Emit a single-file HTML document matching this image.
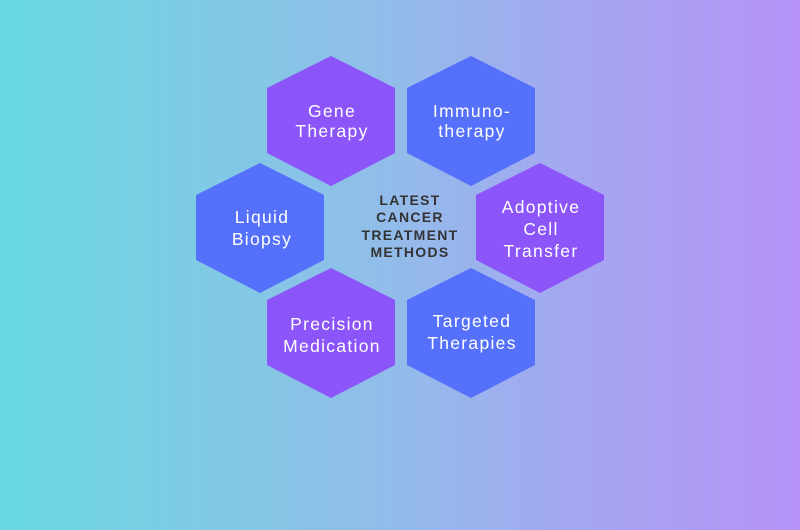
<!DOCTYPE html>
<html><head><meta charset="utf-8"><style>
html,body{margin:0;padding:0;width:800px;height:530px;overflow:hidden}
body{background:linear-gradient(90deg,#68d9e1 0%,#7fcbe4 25%,#93bbea 50%,#a7a4f1 75%,#b592f7 100%)}
text{font-family:"Liberation Sans",sans-serif}
</style></head><body>
<svg width="800" height="530" viewBox="0 0 800 530" xmlns="http://www.w3.org/2000/svg">
<defs>
<polygon id="h" points="0,-65 64,-33 64,32 0,65 -64,32 -64,-33"/>
</defs>
<use href="#h" x="331" y="121" fill="#8b55fa"/>
<use href="#h" x="471" y="121" fill="#5570fb"/>
<use href="#h" x="260" y="228" fill="#5570fb"/>
<use href="#h" x="540" y="228" fill="#8b55fa"/>
<use href="#h" x="331" y="333" fill="#8b55fa"/>
<use href="#h" x="471" y="333" fill="#5570fb"/>
<g fill="#fff" font-size="17.5" text-anchor="middle" letter-spacing="1.3">
<text x="332" y="117">Gene</text><text x="332" y="137">Therapy</text>
<text x="472" y="117">Immuno-</text><text x="472" y="137">therapy</text>
<text x="262" y="223">Liquid</text><text x="262" y="245">Biopsy</text>
<text x="541" y="213">Adoptive</text><text x="541" y="235">Cell</text><text x="541" y="257">Transfer</text>
<text x="332" y="330">Precision</text><text x="332" y="352">Medication</text>
<text x="472" y="327">Targeted</text><text x="472" y="349">Therapies</text>
</g>
<g fill="#333" font-size="14" font-weight="bold" text-anchor="middle" letter-spacing="1.3">
<text x="410" y="205">LATEST</text>
<text x="410" y="222">CANCER</text>
<text x="410" y="240">TREATMENT</text>
<text x="410" y="257">METHODS</text>
</g>
</svg>
</body></html>
